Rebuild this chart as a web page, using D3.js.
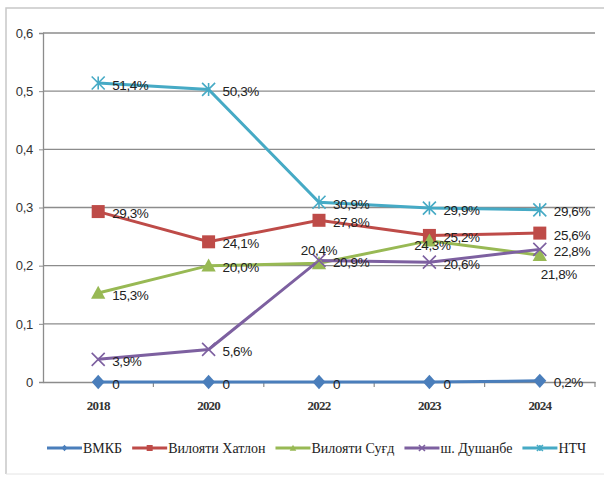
<!DOCTYPE html>
<html lang="tg">
<head>
<meta charset="UTF-8">
<title>Line chart</title>
<script src="https://d3js.org/d3.v7.min.js"></script>
<style>
  body { margin: 0; background: #fff; }
  svg { display: block; }
</style>
</head>
<body>
<svg width="604" height="477"></svg>
<script>
// data
const years = ["2018", "2020", "2022", "2023", "2024"];
const yTicks = [0, 0.1, 0.2, 0.3, 0.4, 0.5, 0.6];
const yTickLabels = ["0", "0,1", "0,2", "0,3", "0,4", "0,5", "0,6"];

const names = ["ВМКБ", "Вилояти Хатлон", "Вилояти Суғд", "ш. Душанбе", "НТЧ"];
const vmkb     = [0, 0, 0, 0, 0.002];
const khatlon  = [0.293, 0.241, 0.278, 0.252, 0.256];
const sughd    = [0.153, 0.200, 0.204, 0.243, 0.218];
const dushanbe = [0.039, 0.056, 0.209, 0.206, 0.228];
const ntj      = [0.514, 0.503, 0.309, 0.299, 0.296];

const colors = ["#4a7ebb", "#be4b48", "#98b954", "#7d60a0", "#46aac5"];
const symbols = ["diamond", "square", "triangle", "cross", "star"];

// label placement tweaks (default = to the right)
const placeFor = (s, i) => {
  if (s === 2 && i === 2) return "above";
  if (s === 2 && i === 3) return "center";
  if (s === 2 && i === 4) return "below";
  return "right";
};

const series = [vmkb, khatlon, sughd, dushanbe, ntj].map((vals, k) => ({
  name: names[k], color: colors[k], sym: symbols[k],
  values: vals.map((v, i) => ({ year: years[i], v }))
}));

const fmt = v => v === 0 ? "0" : (v * 100).toFixed(1).replace(".", ",") + "%";
const sansFont = "'Liberation Sans', Arial, sans-serif";
const serifFont = "'Liberation Serif', 'Times New Roman', serif";

const svg = d3.select("svg");
const plotLeft = 43, plotRight = 595, plotTop = 33, plotBottom = 382;

const x = d3.scaleBand().domain(years).range([plotLeft, plotRight]);
const y = d3.scaleLinear().domain([0, 0.6]).range([plotBottom, plotTop]);
const cx = d => x(d) + x.bandwidth() / 2;

// outer frame
svg.append("path")
  .attr("d", "M6,474 V8 H604")
  .attr("fill", "none").attr("stroke", "#c8c8c8").attr("stroke-width", 1.5);
svg.append("line").attr("x1", 6).attr("x2", 604).attr("y1", 474).attr("y2", 474)
  .attr("stroke", "#e4e4e4");

// gridlines
svg.append("g").selectAll("line").data(yTicks.slice(1)).join("line")
  .attr("x1", plotLeft).attr("x2", plotRight)
  .attr("y1", d => y(d)).attr("y2", d => y(d))
  .attr("stroke", "#8c8c8c").attr("stroke-width", 1.3);

// y axis
const yAxis = svg.append("g")
  .attr("transform", `translate(${plotLeft},0)`)
  .call(d3.axisLeft(y).tickValues(yTicks).tickSize(4).tickPadding(6)
    .tickFormat((d, i) => yTickLabels[i]));
yAxis.select(".domain").attr("stroke", "#8c8c8c").attr("stroke-width", 1.3);
yAxis.selectAll(".tick line").attr("stroke", "#8c8c8c");
yAxis.selectAll("text")
  .attr("font-family", sansFont).attr("letter-spacing", -0.3)
  .attr("font-size", 13).attr("fill", "#333");

// x axis
const xAxis = svg.append("g")
  .attr("transform", `translate(0,${plotBottom})`)
  .call(d3.axisBottom(x).tickSize(0).tickPadding(19));
xAxis.select(".domain").attr("stroke", "#8c8c8c").attr("stroke-width", 1.3);
xAxis.selectAll("text")
  .attr("font-family", serifFont).attr("font-weight", "bold").attr("letter-spacing", -0.8)
  .attr("font-size", 13).attr("fill", "#333");
// category separator ticks
svg.append("g").selectAll("line").data(years.slice(1).concat(["end"])).join("line")
  .attr("x1", d => d === "end" ? plotRight : x(d))
  .attr("x2", d => d === "end" ? plotRight : x(d))
  .attr("y1", plotBottom).attr("y2", plotBottom + 5)
  .attr("stroke", "#8c8c8c").attr("stroke-width", 1.2);

// marker drawer
function drawMarker(g, sym, color, size) {
  const s = size;
  if (sym === "diamond") {
    g.append("path").attr("d", `M0,${-s * 0.55} L${s * 0.5},0 L0,${s * 0.55} L${-s * 0.5},0Z`).attr("fill", color);
  } else if (sym === "square") {
    g.append("rect").attr("x", -s / 2).attr("y", -s / 2).attr("width", s).attr("height", s).attr("fill", color);
  } else if (sym === "triangle") {
    g.append("path").attr("d", `M0,${-s * 0.55} L${s * 0.55},${s * 0.45} L${-s * 0.55},${s * 0.45}Z`).attr("fill", color);
  } else if (sym === "cross") {
    const h = s * 0.5;
    g.append("path").attr("d", `M${-h},${-h} L${h},${h} M${-h},${h} L${h},${-h}`)
      .attr("stroke", color).attr("stroke-width", 1.6);
  } else if (sym === "star") {
    const h = s * 0.5;
    g.append("path").attr("d", `M${-h},${-h} L${h},${h} M${-h},${h} L${h},${-h} M0,${-h} V${h}`)
      .attr("stroke", color).attr("stroke-width", 1.6);
  }
}

const line = d3.line().x(d => cx(d.year)).y(d => y(d.v));

series.forEach(s => {
  svg.append("path").datum(s.values)
    .attr("d", line).attr("fill", "none")
    .attr("stroke", s.color).attr("stroke-width", 3);
});
series.forEach(s => {
  s.values.forEach(d => {
    const g = svg.append("g").attr("transform", `translate(${cx(d.year)},${y(d.v)})`);
    drawMarker(g, s.sym, s.color, 13);
  });
});

// data labels
series.forEach((s, k) => {
  s.values.forEach((d, i) => {
    const p = placeFor(k, i);
    let dx = 14, dy = 2, anchor = "start";
    if (p === "above") { dx = 0; dy = -13; anchor = "middle"; }
    if (p === "center") { dx = 3; dy = 5; anchor = "middle"; }
    if (p === "below") { dx = 19; dy = 19; anchor = "middle"; }
    svg.append("text")
      .attr("x", cx(d.year) + dx).attr("y", y(d.v) + dy)
      .attr("text-anchor", anchor).attr("dominant-baseline", "central")
      .attr("font-family", sansFont).attr("letter-spacing", -0.4)
      .attr("font-size", 13.5).attr("fill", "#222")
      .text(fmt(d.v));
  });
});

// legend
const legend = svg.append("g").attr("transform", "translate(47,448)");
let lx = 0;
series.forEach(s => {
  const g = legend.append("g").attr("transform", `translate(${lx},0)`);
  g.append("line").attr("x1", 0).attr("x2", 35).attr("y1", 0).attr("y2", 0)
    .attr("stroke", s.color).attr("stroke-width", 3);
  const m = g.append("g").attr("transform", "translate(17.5,0)");
  drawMarker(m, s.sym, s.color, 6);
  const t = g.append("text").attr("x", 36).attr("y", 0)
    .attr("dominant-baseline", "central")
    .attr("font-family", serifFont)
    .attr("font-size", 14).attr("fill", "#222")
    .text(s.name);
  lx += 36 + t.node().getComputedTextLength() + 10;
});
</script>
</body>
</html>
